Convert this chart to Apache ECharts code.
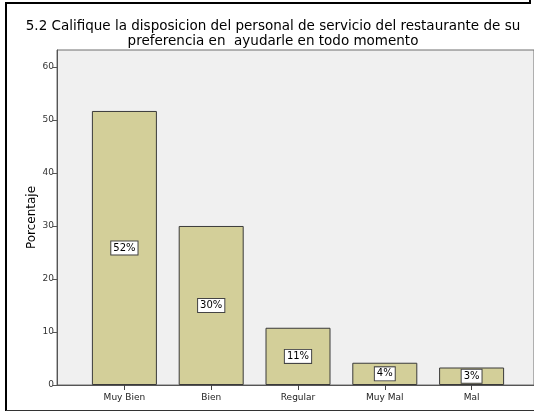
<!DOCTYPE html>
<html>
<head>
<meta charset="utf-8">
<script src="https://cdn.jsdelivr.net/npm/echarts@6/dist/echarts.min.js"></script>
<style>
  html, body { margin: 0; padding: 0; background: #ffffff; }
  #chart { width: 534px; height: 412px; }
</style>
</head>
<body>
<div id="chart"></div>
<script>
// Response categories and their share of respondents (%)
var categories = ['Muy Bien', 'Bien', 'Regular', 'Muy Mal', 'Mal'];
var percentages = [51.7, 30.0, 10.8, 4.2, 3.3];
var yTicks = [0, 10, 20, 30, 40, 50, 60];

var titleLines = [
  '5.2 Califique la disposicion del personal de servicio del restaurante de su',
  'preferencia en  ayudarle en todo momento'
];

var FONT = 'DejaVu Sans';
var Y_MAX = 63.2;
var PLOT_TOP = 50, PLOT_H = 335;

var chart = echarts.init(document.getElementById('chart'), null, { renderer: 'canvas' });

chart.setOption({
  animation: false,
  backgroundColor: '#ffffff',
  title: {
    text: titleLines.join('\n'),
    left: 268,
    top: 14,
    textAlign: 'center',
    textStyle: { fontFamily: FONT, fontSize: 13.5, fontWeight: 'normal', color: '#000', lineHeight: 15 }
  },
  grid: [
    // framed plot background carrying the value axis
    { left: 57, top: PLOT_TOP, width: 500, height: PLOT_H, show: true,
      backgroundColor: '#f0f0f0', borderColor: '#6e6e6e', borderWidth: 1 },
    // bar area, inset inside the frame
    { left: 81, top: PLOT_TOP, width: 434, height: PLOT_H }
  ],
  xAxis: [
    { type: 'value', gridIndex: 0, min: 0, max: 1, show: true,
      axisLine: { show: true, onZero: false, lineStyle: { color: '#555', width: 1 } },
      axisTick: { show: false }, axisLabel: { show: false }, splitLine: { show: false } },
    { type: 'category', gridIndex: 1, data: categories,
      axisLine: { show: false },
      axisTick: { show: true, alignWithLabel: true, length: 5, lineStyle: { color: '#444' } },
      axisLabel: { fontFamily: FONT, fontSize: 9, color: '#222', margin: 8 } }
  ],
  yAxis: [
    { type: 'value', gridIndex: 0, min: 0, max: Y_MAX, interval: 10,
      name: 'Porcentaje', nameLocation: 'middle', nameGap: 19, nameRotate: 90,
      nameMoveOverlap: false,
      nameTextStyle: { fontFamily: FONT, fontSize: 12, color: '#000' },
      axisLine: { show: true, lineStyle: { color: '#555' } },
      axisTick: { show: true, length: 4, lineStyle: { color: '#555' } },
      axisLabel: { fontFamily: FONT, fontSize: 9, color: '#333', margin: 3, showMaxLabel: false,
        formatter: function (v) { return yTicks.indexOf(v) >= 0 ? String(v) : ''; } },
      splitLine: { show: false } },
    { type: 'value', gridIndex: 1, min: 0, max: Y_MAX, show: false }
  ],
  series: [{
    type: 'bar',
    xAxisIndex: 1,
    yAxisIndex: 1,
    data: percentages,
    barWidth: 65,
    itemStyle: { color: '#d3cf99', borderColor: '#3a3a3a', borderWidth: 1 },
    label: {
      show: true,
      position: 'inside',
      formatter: function (p) { return Math.round(p.value) + '%'; },
      fontFamily: FONT, fontSize: 10, color: '#000',
      backgroundColor: '#ffffff', borderColor: '#444', borderWidth: 1,
      padding: [2, 2, 1, 2]
    }
  }],
  graphic: [
    // outer frame
    { type: 'polyline', silent: true,
      shape: { points: [[6, 411], [6, 3], [530, 3], [530, 0]] },
      style: { stroke: '#000', lineWidth: 2, fill: null } },
    { type: 'line', silent: true,
      shape: { x1: 6, y1: 410.5, x2: 534, y2: 410.5 },
      style: { stroke: '#333', lineWidth: 1 } }
  ]
});
</script>
</body>
</html>
